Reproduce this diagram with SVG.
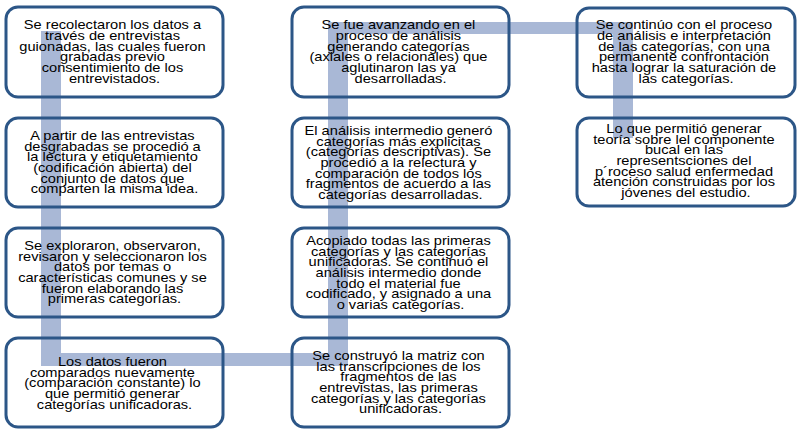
<svg xmlns="http://www.w3.org/2000/svg" width="800" height="433" viewBox="0 0 800 433">
<style>
.box{fill:none;stroke:#2c5687;stroke-width:3}
.band{fill:#a9b8d6}
.t{font-family:"Liberation Sans",Arial,sans-serif;font-size:12px;fill:#000;text-anchor:middle}
</style>
<rect x="0" y="0" width="800" height="433" fill="#fff"/>
<g id="connectors">
<rect class="band" x="41" y="31" width="20" height="335"/>
<rect class="band" x="41" y="353" width="307" height="13"/>
<rect class="band" x="328" y="22" width="20" height="344"/>
<rect class="band" x="328" y="22" width="305" height="12"/>
<rect class="band" x="613" y="22" width="20" height="116"/>
</g>
<g id="n1">
<rect class="box" x="6" y="7" width="217" height="90" rx="12"/>
<text class="t" transform="translate(114.5 0) scale(1.22 1)">
<tspan x="0" y="29.3">Se recolectaron los datos  a</tspan>
<tspan x="0" y="40">través de entrevistas</tspan>
<tspan x="0" y="50.6">guionadas, las cuales fueron</tspan>
<tspan x="0" y="61.3">grabadas previo</tspan>
<tspan x="0" y="72">consentimiento de los</tspan>
<tspan x="0" y="82.6">entrevistados.</tspan>
</text>
</g>
<g id="n2">
<rect class="box" x="6" y="118" width="217" height="89" rx="12"/>
<text class="t" transform="translate(114.5 0) scale(1.22 1)">
<tspan x="0" y="140">A partir de las entrevistas</tspan>
<tspan x="0" y="150.7">desgrabadas se procedió a</tspan>
<tspan x="0" y="161.3">la lectura y etiquetamiento</tspan>
<tspan x="0" y="172">(codificación abierta) del</tspan>
<tspan x="0" y="182.7">conjunto de datos que</tspan>
<tspan x="0" y="193.3">comparten la misma idea.</tspan>
</text>
</g>
<g id="n3">
<rect class="box" x="6" y="228" width="217" height="89" rx="12"/>
<text class="t" transform="translate(114.5 0) scale(1.22 1)">
<tspan x="0" y="250">Se exploraron, observaron,</tspan>
<tspan x="0" y="260.7">revisaron y seleccionaron los</tspan>
<tspan x="0" y="271.3">datos por temas o</tspan>
<tspan x="0" y="282">características comunes y  se</tspan>
<tspan x="0" y="292.7">fueron elaborando las</tspan>
<tspan x="0" y="303.3">primeras categorías.</tspan>
</text>
</g>
<g id="n4">
<rect class="box" x="6" y="338" width="217" height="89" rx="12"/>
<text class="t" transform="translate(114.5 0) scale(1.22 1)">
<tspan x="0" y="366">Los datos fueron</tspan>
<tspan x="0" y="376.7">comparados nuevamente</tspan>
<tspan x="0" y="387.3">(comparación constante) lo</tspan>
<tspan x="0" y="398">que permitió generar</tspan>
<tspan x="0" y="408.7">categorías unificadoras.</tspan>
</text>
</g>
<g id="n5">
<rect class="box" x="292" y="338" width="217" height="89" rx="12"/>
<text class="t" transform="translate(400.5 0) scale(1.22 1)">
<tspan x="0" y="360">Se construyó la matriz con</tspan>
<tspan x="0" y="370.7">las transcripciones de los</tspan>
<tspan x="0" y="381.3">fragmentos de las</tspan>
<tspan x="0" y="392">entrevistas, las primeras</tspan>
<tspan x="0" y="402.7">categorías y las categorías</tspan>
<tspan x="0" y="413.3">unificadoras.</tspan>
</text>
</g>
<g id="n6">
<rect class="box" x="292" y="228" width="217" height="89" rx="12"/>
<text class="t" transform="translate(400.5 0) scale(1.22 1)">
<tspan x="0" y="245">Acopiado todas las primeras</tspan>
<tspan x="0" y="255.7">categorías y las categorías</tspan>
<tspan x="0" y="266.3">unificadoras. Se  continuó el</tspan>
<tspan x="0" y="277">análisis intermedio donde</tspan>
<tspan x="0" y="287.7">todo el material fue</tspan>
<tspan x="0" y="298.3">codificado, y asignado a una</tspan>
<tspan x="0" y="309">o varias categorías.</tspan>
</text>
</g>
<g id="n7">
<rect class="box" x="292" y="118" width="217" height="89" rx="12"/>
<text class="t" transform="translate(400.5 0) scale(1.22 1)">
<tspan x="0" y="135">El análisis intermedio generó</tspan>
<tspan x="0" y="145.7">categorías más explicitas</tspan>
<tspan x="0" y="156.3">(categorías descriptivas). Se</tspan>
<tspan x="0" y="167">procedió a la relectura y</tspan>
<tspan x="0" y="177.7">comparación de todos los</tspan>
<tspan x="0" y="188.3">fragmentos de acuerdo a las</tspan>
<tspan x="0" y="199">categorías desarrolladas.</tspan>
</text>
</g>
<g id="n8">
<rect class="box" x="292" y="7" width="217" height="90" rx="12"/>
<text class="t" transform="translate(400.5 0) scale(1.22 1)">
<tspan x="0" y="29.3">Se fue avanzando en el</tspan>
<tspan x="0" y="40">proceso de análisis</tspan>
<tspan x="0" y="50.6">generando categorías</tspan>
<tspan x="0" y="61.3">(axiales  o relacionales) que</tspan>
<tspan x="0" y="72">aglutinaron las ya</tspan>
<tspan x="0" y="82.6">desarrolladas.</tspan>
</text>
</g>
<g id="n9">
<rect class="box" x="577" y="8" width="218" height="89" rx="12"/>
<text class="t" transform="translate(686 0) scale(1.22 1)">
<tspan x="0" y="29.3">Se continúo con el proceso</tspan>
<tspan x="0" y="40">de análisis e interpretación</tspan>
<tspan x="0" y="50.6">de las categorías, con una</tspan>
<tspan x="0" y="61.3">permanente confrontación</tspan>
<tspan x="0" y="72">hasta lograr la saturación de</tspan>
<tspan x="0" y="82.6">las categorías.</tspan>
</text>
</g>
<g id="n10">
<rect class="box" x="577" y="118" width="218" height="88" rx="12"/>
<text class="t" transform="translate(686 0) scale(1.22 1)">
<tspan x="0" y="133">Lo que permitió generar</tspan>
<tspan x="0" y="143.7">teoría sobre lel componente</tspan>
<tspan x="0" y="154.3">bucal en las</tspan>
<tspan x="0" y="165">representsciones del</tspan>
<tspan x="0" y="175.7">p´roceso salud enfermedad</tspan>
<tspan x="0" y="186.3">atención construidas  por los</tspan>
<tspan x="0" y="197">jóvenes del estudio.</tspan>
</text>
</g>
</svg>
